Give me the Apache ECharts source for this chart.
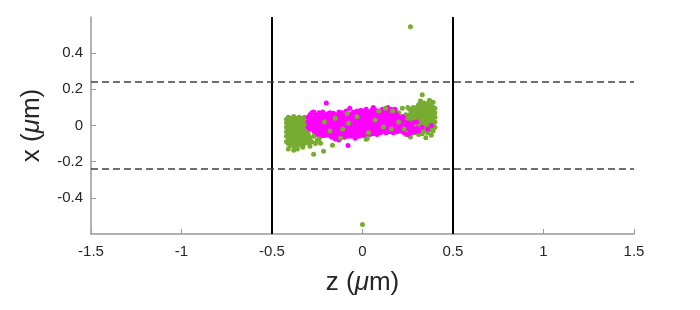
<!DOCTYPE html>
<html>
<head>
<meta charset="utf-8">
<script src="https://cdn.jsdelivr.net/npm/echarts@6/dist/echarts.min.js"></script>
<style>
  html, body { margin: 0; padding: 0; background: #fff; }
  #chart { width: 700px; height: 310px; }
</style>
</head>
<body>
<div id="chart"></div>
<script>
// axis ticks
const zTicks = [-1.5, -1, -0.5, 0, 0.5, 1, 1.5];
const xTicks = [-0.4, -0.2, 0, 0.2, 0.4];

// boundaries (um)
const boundZ = [-0.5, 0.5];
const boundX = [-0.24, 0.24];

// points, grouped by z column: [z, [x values]]
const greenBackCols = [
  [-0.42, [-0.09, -0.06, -0.035, -0.01, 0.015, 0.035]],
  [-0.41, [-0.13, -0.10, -0.075, -0.05, -0.02, 0.005, 0.03, 0.045]],
  [-0.40, [-0.11, -0.085, -0.06, -0.03, 0.0, 0.02, 0.04]],
  [-0.39, [-0.095, -0.07, -0.045, -0.015, 0.01, 0.035]],
  [-0.38, [-0.137, -0.115, -0.08, -0.055, -0.025, 0.005, 0.03, 0.05]],
  [-0.37, [-0.10, -0.065, -0.04, -0.01, 0.02, 0.04]],
  [-0.36, [-0.13, -0.11, -0.085, -0.05, -0.02, 0.01, 0.035]],
  [-0.35, [-0.095, -0.07, -0.035, -0.005, 0.025, 0.045]],
  [-0.34, [-0.105, -0.075, -0.045, -0.015, 0.015, 0.04]],
  [-0.33, [-0.12, -0.09, -0.06, -0.03, 0.0, 0.03]],
  [-0.32, [-0.10, -0.07, -0.04, -0.01, 0.02, 0.045]],
  [-0.31, [-0.085, -0.05, -0.02, 0.01]],
  [-0.30, [-0.095, -0.06, -0.03, 0.03]],
  [-0.29, [-0.115]],
  [-0.27, [-0.159]],
  [-0.25, [-0.08]],
  [-0.232, [-0.098]],
  [-0.215, [-0.142]],
  [-0.166, [-0.109]],
  [0.20, [0.07]],
  [0.22, [0.095]],
  [0.24, [0.06, -0.05]],
  [0.25, [0.10]],
  [0.26, [-0.02, 0.03, 0.06, 0.09]],
  [0.265, [-0.063]],
  [0.27, [-0.01, 0.02, 0.05, 0.08]],
  [0.28, [-0.03, 0.01, 0.04, 0.07, 0.10]],
  [0.29, [-0.04, 0.0, 0.03, 0.06, 0.09]],
  [0.30, [-0.02, 0.02, 0.045, 0.075, 0.10]],
  [0.31, [-0.05, -0.01, 0.015, 0.04, 0.065, 0.09, 0.115]],
  [0.32, [-0.03, 0.0, 0.03, 0.055, 0.08, 0.105, 0.136]],
  [0.33, [-0.045, -0.015, 0.01, 0.04, 0.065, 0.09, 0.12, 0.17]],
  [0.34, [-0.03, 0.0, 0.025, 0.05, 0.075, 0.10, 0.125]],
  [0.35, [-0.068, -0.02, 0.01, 0.035, 0.06, 0.085, 0.11]],
  [0.36, [-0.04, -0.01, 0.02, 0.045, 0.07, 0.095, 0.12]],
  [0.37, [-0.025, 0.005, 0.03, 0.055, 0.08, 0.105, 0.14]],
  [0.38, [-0.054, -0.015, 0.015, 0.04, 0.065, 0.09, 0.115]],
  [0.39, [-0.03, 0.0, 0.025, 0.05, 0.075, 0.10, 0.129]],
  [0.40, [-0.01, 0.02, 0.045, 0.07, 0.095]]
];

const magentaCols = [
  [-0.30, [-0.01, 0.02, 0.045]],
  [-0.29, [-0.02, 0.005, 0.035, 0.06]],
  [-0.28, [-0.015, 0.01, 0.04, 0.07]],
  [-0.27, [-0.03, 0.0, 0.025, 0.075]],
  [-0.26, [-0.043, -0.02, 0.01, 0.035, 0.055]],
  [-0.25, [-0.05, -0.025, 0.005, 0.03, 0.06]],
  [-0.24, [-0.035, -0.01, 0.015, 0.045, 0.07]],
  [-0.23, [-0.06, -0.03, 0.0, 0.025, 0.05]],
  [-0.22, [-0.045, -0.015, 0.01, 0.04, 0.075]],
  [-0.21, [-0.055, -0.025, 0.005, 0.03, 0.06]],
  [-0.20, [-0.04, -0.01, 0.02, 0.05, 0.125]],
  [-0.19, [-0.054, -0.03, 0.0, 0.03, 0.065]],
  [-0.18, [-0.045, -0.015, 0.015, 0.04, 0.07]],
  [-0.17, [-0.065, -0.035, -0.005, 0.025, 0.055]],
  [-0.16, [-0.05, -0.02, 0.01, 0.04, 0.068]],
  [-0.15, [-0.075, -0.04, -0.01, 0.02, 0.05]],
  [-0.14, [-0.055, -0.025, 0.005, 0.035, 0.06]],
  [-0.13, [-0.08, -0.045, -0.015, 0.015, 0.045, 0.075]],
  [-0.12, [-0.06, -0.03, 0.0, 0.03, 0.06]],
  [-0.11, [-0.05, -0.02, 0.01, 0.04, 0.07]],
  [-0.10, [-0.065, -0.035, -0.005, 0.025, 0.055]],
  [-0.09, [-0.045, -0.015, 0.02, 0.05, 0.08]],
  [-0.08, [-0.11, -0.06, -0.03, 0.0, 0.03, 0.06]],
  [-0.07, [-0.045, -0.015, 0.015, 0.045, 0.095]],
  [-0.06, [-0.06, -0.03, 0.005, 0.035, 0.065]],
  [-0.05, [-0.05, -0.02, 0.01, 0.04, 0.075]],
  [-0.04, [-0.07, -0.035, -0.005, 0.025, 0.055]],
  [-0.03, [-0.045, -0.015, 0.02, 0.05, 0.08]],
  [-0.02, [-0.06, -0.025, 0.005, 0.035, 0.065]],
  [-0.01, [-0.04, -0.01, 0.02, 0.05, 0.085]],
  [0.00, [-0.055, -0.025, 0.01, 0.04, 0.07]],
  [0.01, [-0.045, -0.015, 0.02, 0.05, 0.08]],
  [0.02, [-0.06, -0.03, 0.0, 0.03, 0.06, 0.09]],
  [0.03, [-0.04, -0.01, 0.025, 0.055, 0.075]],
  [0.04, [-0.05, -0.02, 0.01, 0.04, 0.07]],
  [0.05, [-0.035, -0.005, 0.025, 0.055, 0.085]],
  [0.06, [-0.045, -0.015, 0.015, 0.045, 0.075, 0.10]],
  [0.07, [-0.03, 0.0, 0.03, 0.06, 0.085]],
  [0.08, [-0.05, -0.02, 0.01, 0.04, 0.07]],
  [0.09, [-0.035, -0.005, 0.025, 0.055, 0.08]],
  [0.10, [-0.04, -0.01, 0.02, 0.05, 0.075]],
  [0.11, [-0.025, 0.005, 0.035, 0.065, 0.09]],
  [0.12, [-0.03, 0.0, 0.03, 0.06, 0.085]],
  [0.13, [-0.04, -0.01, 0.02, 0.05, 0.075]],
  [0.14, [-0.02, 0.01, 0.04, 0.07, 0.10]],
  [0.15, [-0.035, -0.005, 0.025, 0.055, 0.08]],
  [0.16, [-0.025, 0.005, 0.035, 0.065, 0.09]],
  [0.17, [-0.04, -0.01, 0.02, 0.05, 0.075]],
  [0.18, [-0.02, 0.01, 0.04, 0.07, 0.09]],
  [0.19, [-0.035, 0.0, 0.03, 0.06]],
  [0.20, [-0.02, 0.015, 0.045]],
  [0.21, [-0.03, 0.0, 0.03]],
  [0.22, [-0.015, 0.02, 0.05]],
  [0.23, [-0.04, -0.005, 0.025]],
  [0.24, [-0.02, 0.01, 0.04]],
  [0.25, [-0.05, -0.01, 0.02]],
  [0.26, [-0.025, 0.005]],
  [0.27, [-0.04, 0.0]],
  [0.28, [-0.02, 0.015]],
  [0.29, [-0.035]],
  [0.30, [-0.015, 0.02]],
  [0.31, [-0.03]],
  [0.33, [-0.01]],
  [0.36, [-0.02]],
  [0.38, [0.0]]
];

// green points that sit on top of the magenta ones
const greenFrontCols = [
  [-0.30, [-0.05]],
  [-0.29, [-0.07]],
  [-0.28, [-0.09]],
  [-0.27, [-0.06]],
  [-0.26, [-0.10]],
  [-0.24, [-0.075]],
  [-0.21, [0.02]],
  [-0.18, [-0.03]],
  [-0.15, [0.04]],
  [-0.12, [-0.07]],
  [-0.11, [-0.02]],
  [-0.085, [0.066]],
  [-0.077, [0.012]],
  [-0.03, [0.048]],
  [0.0, [-0.548]],
  [0.02, [-0.076]],
  [0.026, [-0.072]],
  [0.033, [-0.04]],
  [0.07, [0.03]],
  [0.09, [0.08]],
  [0.116, [-0.008]],
  [0.127, [0.095]],
  [0.16, [-0.02]],
  [0.166, [0.08]],
  [0.20, [0.02]],
  [0.23, [-0.02]],
  [0.25, [0.04]],
  [0.265, [0.546]]
];

const flatten = cols => cols.flatMap(([z, xs]) => xs.map(x => [z, x]));

const chart = echarts.init(document.getElementById('chart'));

const fontFamily = '"Liberation Sans", Arial, sans-serif';
const axisGrey = '#999999';
const textGrey = '#262626';

const option = {
  animation: false,
  grid: { left: 91, right: 66, top: 17, bottom: 76 },
  xAxis: {
    type: 'value',
    min: -1.5,
    max: 1.5,
    interval: 0.5,
    name: 'z ({i|μ}m)',
    nameLocation: 'middle',
    nameGap: 36,
    nameTextStyle: {
      fontSize: 26, color: textGrey, fontFamily: fontFamily,
      rich: { i: { fontSize: 26, fontStyle: 'italic', color: textGrey, fontFamily: fontFamily } }
    },
    axisLine: { onZero: false, lineStyle: { color: axisGrey, width: 1.5 } },
    axisTick: { inside: true, length: 5, lineStyle: { color: axisGrey }, customValues: zTicks },
    axisLabel: { color: textGrey, fontSize: 15, fontFamily: fontFamily, margin: 10, customValues: zTicks },
    splitLine: { show: false }
  },
  yAxis: {
    type: 'value',
    min: -0.6,
    max: 0.6,
    interval: 0.2,
    name: 'x ({i|μ}m)',
    nameLocation: 'middle',
    nameGap: 46,
    nameTextStyle: {
      fontSize: 26, color: textGrey, fontFamily: fontFamily,
      rich: { i: { fontSize: 26, fontStyle: 'italic', color: textGrey, fontFamily: fontFamily } }
    },
    axisLine: { onZero: false, lineStyle: { color: axisGrey, width: 1.5 } },
    axisTick: { inside: true, length: 5, lineStyle: { color: axisGrey }, customValues: xTicks },
    axisLabel: { color: textGrey, fontSize: 15, fontFamily: fontFamily, margin: 8, customValues: xTicks },
    splitLine: { show: false }
  },
  series: [
    {
      type: 'scatter',
      data: flatten(greenBackCols),
      symbolSize: 5,
      itemStyle: { color: '#77AC30', opacity: 1 },
      silent: true
    },
    {
      type: 'scatter',
      data: flatten(magentaCols),
      symbolSize: 5,
      itemStyle: { color: '#FF00FF', opacity: 1 },
      silent: true
    },
    {
      type: 'scatter',
      data: flatten(greenFrontCols),
      symbolSize: 5,
      itemStyle: { color: '#77AC30', opacity: 1 },
      silent: true,
      markLine: {
        silent: true,
        symbol: 'none',
        label: { show: false },
        data: [
          ...boundZ.map(v => ({ xAxis: v, lineStyle: { color: '#000000', width: 2, type: 'solid' } })),
          ...boundX.map(v => ({ yAxis: v, lineStyle: { color: '#404040', width: 1.5, type: [7, 4] } }))
        ]
      }
    }
  ]
};

chart.setOption(option);
</script>
</body>
</html>
